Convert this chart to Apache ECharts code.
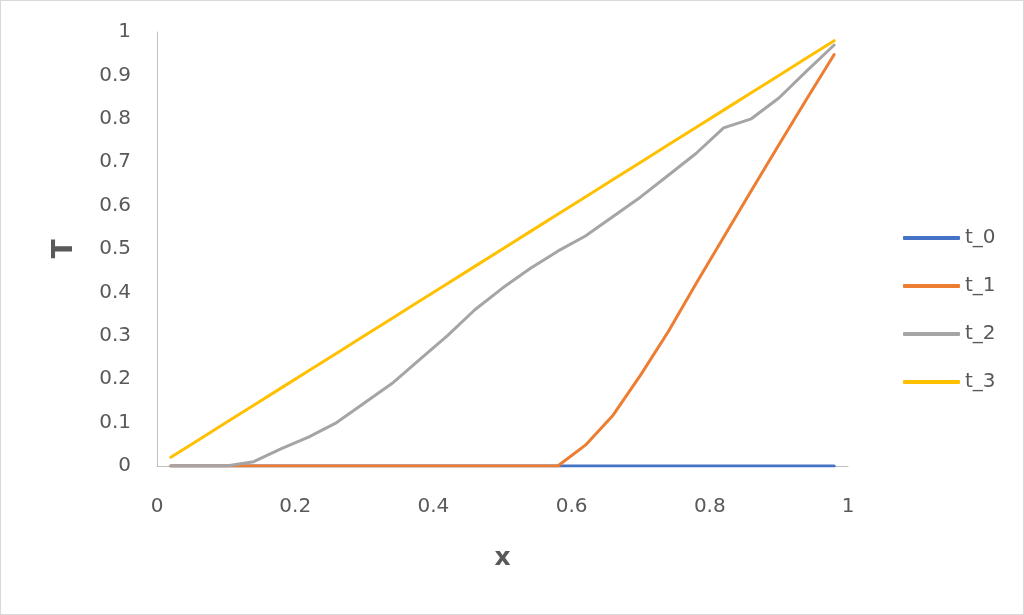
<!DOCTYPE html>
<html>
<head>
<meta charset="utf-8">
<script src="https://cdn.jsdelivr.net/npm/echarts@6/dist/echarts.min.js"></script>
<style>
html,body{margin:0;padding:0;background:#fff;}
#c{width:1024px;height:615px;box-sizing:border-box;border:1px solid #d9d9d9;}
</style>
</head>
<body>
<div id="c"></div>
<script>
const xs = [0.02,0.06,0.10,0.14,0.18,0.22,0.26,0.30,0.34,0.38,0.42,0.46,0.50,0.54,0.58,0.62,0.66,0.70,0.74,0.78,0.82,0.86,0.90,0.94,0.98];
const t0 = [0,0,0,0,0,0,0,0,0,0,0,0,0,0,0,0,0,0,0,0,0,0,0,0,0];
const t1 = [0,0,0,0,0,0,0,0,0,0,0,0,0,0,0,0.048,0.117,0.21,0.31,0.42,0.527,0.634,0.74,0.845,0.948];
const t2 = [0,0,0,0.01,0.04,0.067,0.10,0.145,0.19,0.245,0.30,0.36,0.41,0.455,0.495,0.53,0.575,0.62,0.67,0.72,0.779,0.80,0.848,0.91,0.97];
const t3 = [0.02,0.06,0.10,0.14,0.18,0.22,0.26,0.30,0.34,0.38,0.42,0.46,0.50,0.54,0.58,0.62,0.66,0.70,0.74,0.78,0.82,0.86,0.90,0.94,0.98];
const names = ['t_0','t_1','t_2','t_3'];
const colors = ['#4472C4','#ED7D31','#A5A5A5','#FFC000'];
const series = [t0,t1,t2,t3].map((ys,i)=>({
  name:names[i], type:'line', symbol:'none', smooth:false,
  data: xs.map((x,j)=>[x,ys[j]]),
  lineStyle:{width:3,color:colors[i],cap:'round',join:'round'},
  itemStyle:{color:colors[i]},
  z:2+i
}));
const font = '"DejaVu Sans", sans-serif';
const chart = echarts.init(document.getElementById('c'));
chart.setOption({
  animation:false,
  textStyle:{fontFamily:font},
  grid:{left:156,right:175,top:31,bottom:148,containLabel:false},
  xAxis:{type:'value',min:0,max:1,interval:0.2,
    name:'x',nameLocation:'middle',nameGap:80,
    nameTextStyle:{fontSize:25,fontWeight:'bold',color:'#595959',fontFamily:font},
    axisLine:{show:true,lineStyle:{color:'#bfbfbf',width:1}},
    axisTick:{show:false},splitLine:{show:false},
    axisLabel:{fontSize:20,color:'#595959',margin:31,fontFamily:font}},
  yAxis:{type:'value',min:0,max:1,interval:0.1,
    name:'T',nameLocation:'middle',nameGap:78,nameRotate:90,
    nameTextStyle:{fontSize:28,fontWeight:'bold',color:'#595959',fontFamily:font},
    axisLine:{show:true,lineStyle:{color:'#bfbfbf',width:1}},
    axisTick:{show:false},splitLine:{show:false},
    axisLabel:{fontSize:20,color:'#595959',margin:26,fontFamily:font}},
  legend:{orient:'vertical',left:897,top:222,itemWidth:57,itemHeight:4,itemGap:28,
    icon:'roundRect',
    data:names,
    textStyle:{fontSize:20,color:'#595959',lineHeight:20,fontFamily:font}},
  series:series
});
</script>
</body>
</html>
